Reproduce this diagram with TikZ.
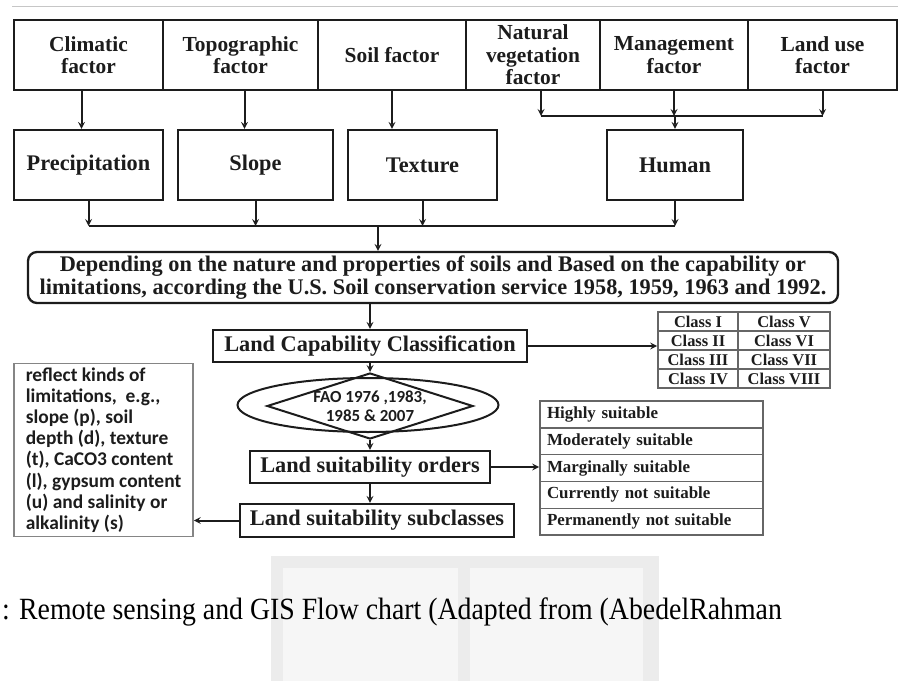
\documentclass[tikz,border=0pt]{standalone}
\usepackage{fontspec}
\setmainfont{Liberation Serif}
\newfontfamily\calfont{Carlito}
\newfontfamily\capfont[FakeStretch=0.9]{Liberation Serif}
\usetikzlibrary{shapes.geometric, arrows, matrix}
\definecolor{ink}{HTML}{1C1C1C}
\definecolor{rule}{HTML}{666666}
\tikzstyle{box} = [draw=ink, line width=2.3bp, inner sep=2bp, align=center, text=ink, font=\fontsize{21.5}{22.5}\selectfont\bfseries]
\tikzstyle{bigtext} = [font=\fontsize{22.4}{22.5}\selectfont\bfseries]
\tikzstyle{arrow} = [line width=2bp, draw=ink, ->, >=stealth]
\tikzstyle{joinline} = [line width=2bp, draw=ink]
\tikzstyle{cell} = [draw=rule, line width=1.4bp, inner sep=0pt, text=ink]

\begin{document}
\begin{tikzpicture}[x=1bp, y=-1bp]
	\useasboundingbox (0,0) rectangle (898,681);
	% faint watermark behind the caption
	\fill[gray!15] (271,556) rectangle (659,681);
	\fill[gray!7] (283,568) rectangle (458,681);
	\fill[gray!7] (470,568) rectangle (643,681);
	\draw[gray!45, line width=1bp] (12,6.5) -- (898,6.5);

	% factors
	\node (climatic) [box, minimum width=149bp, minimum height=70bp] at (88.5,55) {Climatic\\factor};
	\node (topo) [box, minimum width=155bp, minimum height=70bp] at (240.5,55) {Topographic\\factor};
	\node (soil) [box, minimum width=148bp, minimum height=70bp] at (392,55) {Soil factor};
	\node (natveg) [box, minimum width=134bp, minimum height=70bp] at (533,55) {Natural\\vegetation\\factor};
	\node (mgmt) [box, minimum width=148bp, minimum height=70bp] at (674,55) {Management\\factor};
	\node (landuse) [box, minimum width=149bp, minimum height=70bp] at (822.5,55) {Land use\\factor};

	\node (precip) [box, bigtext, minimum width=149bp, minimum height=70bp] at (88.5,165) {Precipitation};
	\node (slope) [box, bigtext, minimum width=155bp, minimum height=70bp] at (255.5,165) {Slope};
	\node (texture) [box, bigtext, minimum width=149bp, minimum height=70bp] at (422.5,165) {Texture};
	\node (human) [box, bigtext, minimum width=136bp, minimum height=70bp] at (675,165) {Human};

	\draw[arrow] ([xshift=-7bp]climatic.south) -- ([xshift=-7bp]climatic.south |- precip.north);
	\draw[arrow] ([xshift=4bp]topo.south) -- ([xshift=4bp]topo.south |- slope.north);
	\draw[arrow] (soil.south) -- (soil.south |- texture.north);

	\coordinate (hj) at (675,116);
	\draw[arrow] ([xshift=8bp]natveg.south) -- ([xshift=8bp]natveg.south |- hj);
	\draw[arrow] (mgmt.south) -- (mgmt.south |- hj);
	\draw[arrow] (landuse.south) -- (landuse.south |- hj);
	\draw[joinline] ([xshift=8bp]natveg.south |- hj) -- (landuse.south |- hj);
	\draw[arrow] (hj) -- (human.north);

	\node (depend) [box, bigtext, rounded corners=9bp, minimum width=810bp, minimum height=51bp] at (433,277.5) {Depending on the nature and properties of soils and Based on the capability or\\limitations, according the U.S. Soil conservation service 1958, 1959, 1963 and 1992.};

	\coordinate (bj) at (378,226);
	\foreach \n in {precip, slope, texture, human}
		\draw[arrow] (\n.south) -- (\n.south |- bj);
	\draw[joinline] (precip.south |- bj) -- (human.south |- bj);
	\draw[arrow] (bj) -- (bj |- depend.north);

	% classification chain
	\node (lcc) [box, bigtext, minimum width=314bp, minimum height=32bp] at (370,346) {Land Capability Classification};
	\draw[arrow] (lcc.north |- depend.south) -- (lcc.north);

	\matrix (classtab) [matrix of nodes, inner sep=0pt, column sep=-1.4bp, row sep=-1.4bp,
		nodes={cell, minimum height=19bp, font=\fontsize{16.5}{17}\selectfont\bfseries},
		column 1/.style={nodes={minimum width=80bp}},
		column 2/.style={nodes={minimum width=92bp}}] at (744,350) {
		Class I & Class V\\
		Class II & Class VI\\
		Class III & Class VII\\
		Class IV & Class VIII\\
	};
	\draw[arrow] (lcc.east) -- (lcc.east -| classtab.west);

	\node (faoring) [ellipse, draw=ink, line width=2bp, minimum width=261bp, minimum height=54bp, inner sep=0pt] at (368,405) {};
	\node (fao) [diamond, draw=ink, line width=2bp, minimum width=206bp, minimum height=66bp, inner sep=0pt,
		label={[font=\calfont\bfseries\fontsize{17}{19}\selectfont, align=center, text=ink, inner sep=0pt]center:{FAO 1976 ,1983,\\1985 \& 2007}}] at (370,406) {};
	\draw[arrow] (lcc.south) -- (fao.north);

	\node (orders) [box, bigtext, minimum width=240bp, minimum height=32bp] at (370,467) {Land suitability orders};
	\draw[arrow] (fao.south) -- (orders.north);
	\node (subcl) [box, bigtext, minimum width=274bp, minimum height=33bp] at (377,520.5) {Land suitability subclasses};
	\draw[arrow] (orders.south) -- (orders.south |- subcl.north);

	\matrix (suittab) [matrix of nodes, inner sep=0pt, row sep=-1.4bp,
		nodes={cell, minimum width=223bp, minimum height=26.8bp, text width=209bp, align=left, font=\fontsize{17}{18}\selectfont\bfseries}] at (651.5,468) {
		Highly suitable\\
		Moderately suitable\\
		Marginally suitable\\
		Currently not suitable\\
		Permanently not suitable\\
	};
	\draw[arrow] (orders.east) -- (orders.east -| suittab.west);

	\node (limits) [draw=rule!80, line width=1.6bp, minimum width=179bp, minimum height=173bp, align=left, text=ink,
		font=\calfont\bfseries\fontsize{19.5}{21.3}\selectfont] at (103.5,450) {reflect kinds of\\limitations,\ \ e.g.,\\slope (p), soil\\depth (d), texture\\(t), CaCO3 content\\(l), gypsum content\\(u) and salinity or\\alkalinity (s)};
	\draw[arrow] (subcl.west) -- (subcl.west -| limits.east);

	\node (caption) [anchor=base west, inner sep=0pt, font=\capfont\fontsize{31}{31}\selectfont] at (2,619) {: Remote sensing and GIS Flow chart (Adapted from (AbedelRahman};
\end{tikzpicture}
\end{document}
